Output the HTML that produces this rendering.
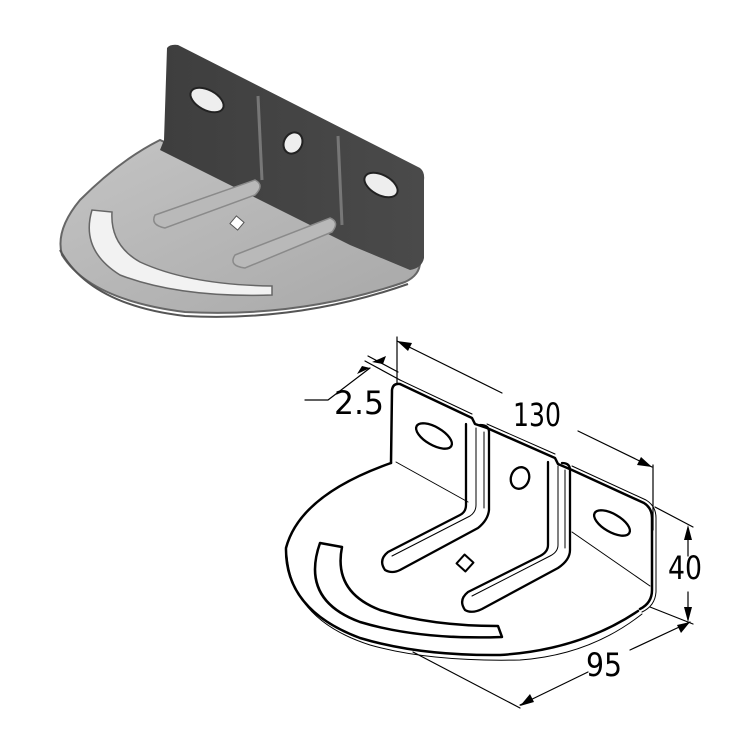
<!DOCTYPE html>
<html><head><meta charset="utf-8"><style>
html,body{margin:0;padding:0;background:#fff;}
svg{display:block}
text{font-family:"DejaVu Sans Condensed","Liberation Sans Narrow","Liberation Sans",sans-serif;}
</style></head><body>
<svg width="750" height="750" viewBox="0 0 750 750" xmlns="http://www.w3.org/2000/svg">
<defs>
<linearGradient id="base" x1="0" y1="0" x2="1" y2="1">
<stop offset="0" stop-color="#c4c4c4"/><stop offset="1" stop-color="#a8a8a8"/></linearGradient>
<linearGradient id="wall" x1="0" y1="0" x2="1" y2="0">
<stop offset="0" stop-color="#3e3e3e"/><stop offset="1" stop-color="#4a4a4a"/></linearGradient>
</defs>
<!-- TOP RENDER -->
<g>
<path d="M160,140 Q120,160 80,200 Q55,230 62,255 Q90,300 185,312 Q300,318 405,282 Q420,275 420,262 L160,140 Z" fill="url(#base)" stroke="#666" stroke-width="2"/>
<path d="M60,250 Q90,305 185,316 Q300,322 408,284" fill="none" stroke="#555" stroke-width="2"/>
<path d="M167,48 Q170,44 178,45 L420,168 Q425,172 424,180 L424,258 Q422,268 410,270 L350,245 L160,150 L164,140 Z" fill="url(#wall)"/>
<path d="M258,96 L262,180 M338,136 L342,225" stroke="#777" stroke-width="3"/>
<ellipse cx="207" cy="100" rx="18" ry="10" transform="rotate(28 207 100)" fill="#eee" stroke="#222" stroke-width="2"/>
<ellipse cx="293" cy="143" rx="9" ry="11" transform="rotate(28 293 143)" fill="#eee" stroke="#222" stroke-width="2"/>
<ellipse cx="381" cy="185" rx="18" ry="10" transform="rotate(28 381 185)" fill="#eee" stroke="#222" stroke-width="2"/>
<path d="M92,210 Q80,250 120,275 Q180,298 272,295 L272,286 Q190,285 140,262 Q110,245 112,212 Z" fill="#f2f2f2" stroke="#666" stroke-width="1.5"/>
<path d="M155,215 L255,180 Q265,185 255,195 L165,228 Q150,225 155,215 Z" fill="#b9b9b9" stroke="#8a8a8a" stroke-width="1.5"/>
<path d="M235,255 L330,218 Q340,222 332,232 L245,268 Q228,266 235,255 Z" fill="#b9b9b9" stroke="#8a8a8a" stroke-width="1.5"/>
<rect x="232" y="218" width="10" height="10" transform="rotate(40 237 223)" fill="#fff" stroke="#555"/>
</g>
<!-- BOTTOM LINE DRAWING -->
<g fill="none" stroke="#000" stroke-linejoin="round" stroke-linecap="round">
<!-- base outline -->
<path d="M391,463 Q300,495 286,548 Q285,610 360,638 Q420,656 500,655 Q580,650 638,611" stroke-width="2.5"/>
<path d="M287,555 Q292,620 370,645 Q430,662 520,660 Q590,655 642,614" stroke-width="1"/>
<!-- wall -->
<path d="M391,463 L392,390 Q393,383 400,384 L472,418 L475,424 L487,428 L555,458 L558,464 L572,470 L644,503 Q652,508 652,518 L652,590 Q652,603 640,609" stroke-width="2.5"/>
<path d="M400,380 L472,414 M487,424 L555,454 M572,466 L646,500 Q656,506 656,518 L656,592 Q655,606 642,612" stroke-width="1"/>
<!-- inner folds -->
<path d="M396,462 L468,502 M572,532 L650,586" stroke-width="1"/>
<path d="M466,424 L466,505 Q466,512 460,515 L388,552 Q378,560 385,570 Q392,574 400,570 L478,528 Q488,520 489,510 L489,432 Q489,425 480,425" stroke-width="2.3"/>
<path d="M476,428 L476,505 Q476,512 470,516 L392,556 M484,432 L484,508" stroke-width="1"/>
<path d="M548,462 L548,545 Q548,552 540,556 L468,592 Q458,600 465,610 Q472,614 482,609 L558,568 Q570,560 570,550 L570,470 Q570,463 562,463" stroke-width="2.3"/>
<path d="M558,466 L558,545 Q558,552 550,556 L472,596 M565,470 L565,548" stroke-width="1"/>
<!-- holes -->
<ellipse cx="434" cy="436" rx="20" ry="9" transform="rotate(30 434 436)" stroke-width="2.3"/>
<ellipse cx="520" cy="478" rx="9" ry="11" transform="rotate(20 520 478)" stroke-width="2.3"/>
<ellipse cx="612" cy="523" rx="20" ry="9" transform="rotate(30 612 523)" stroke-width="2.3"/>
<rect x="459" y="557" width="12" height="12" transform="rotate(42 465 563)" stroke-width="2"/>
<!-- arc slot -->
<path d="M320,543 Q300,600 360,622 Q420,640 502,637 L498,626 Q430,626 380,610 Q333,592 342,547 Z" stroke-width="2.5"/>
<!-- dimensions -->
<g stroke-width="1.2">
<path d="M397,337 L397,383 M653,465 L653,530 M655,507 L693,527 M650,607 L693,624 M413,652 L520,708"/>
<path d="M397,341 L502,393 M578,431 L652,467"/>
<path d="M688,528 L688,556 M688,592 L688,620"/>
<path d="M520,705 L588,672 M630,650 L690,622"/>
<path d="M305,400 L328,400 L370,368 M365,361 L400,380 M368,356 L398,372"/>
</g>
<g fill="#000" stroke="none">
<path d="M397,341 L412,343 L408,351 Z"/>
<path d="M652,467 L637,465 L641,457 Z"/>
<path d="M688,525 L684,540 L692,540 Z"/>
<path d="M688,622 L684,607 L692,607 Z"/>
<path d="M690,622 L681,633 L677,625 Z"/>
<path d="M520,706 L530,694 L534,702 Z"/>
<path d="M370,368 L357,374 L362,366 Z"/>
<path d="M372,362 L386,356 L383,364 Z"/>
</g>
</g>
<g fill="#000" font-size="32">
<text x="334" y="414" textLength="50" lengthAdjust="spacingAndGlyphs">2.5</text>
<text x="513" y="426" textLength="48" lengthAdjust="spacingAndGlyphs">130</text>
<text x="668" y="579" textLength="34" lengthAdjust="spacingAndGlyphs">40</text>
<text x="586" y="676" textLength="36" lengthAdjust="spacingAndGlyphs">95</text>
</g>
</svg>
</body></html>
